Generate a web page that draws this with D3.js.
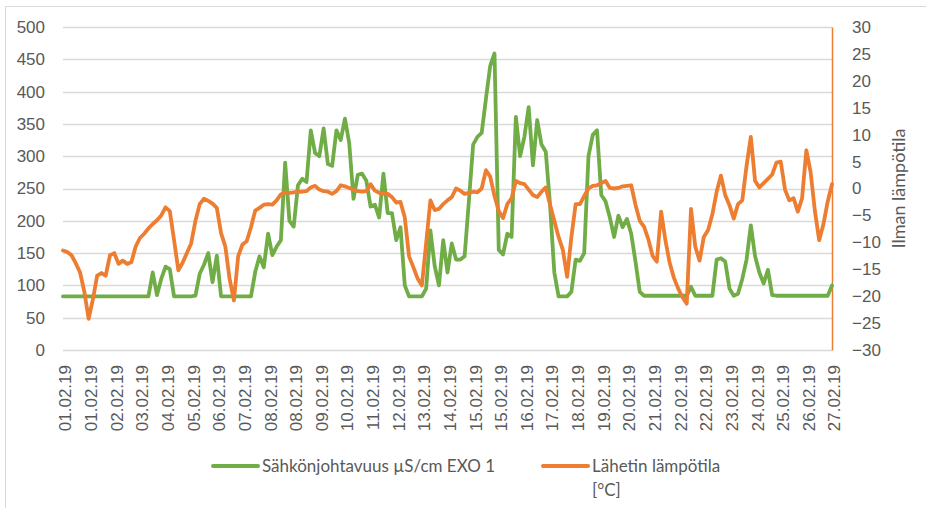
<!DOCTYPE html>
<html>
<head>
<meta charset="utf-8">
<script src="https://cdn.jsdelivr.net/npm/d3@7"></script>
<style>
  body { margin: 0; background: #fff; }
  svg { font-family: Lato, "Open Sans", sans-serif; }
</style>
</head>
<body>
<div id="chart"></div>
<script>
(function() {

  // one label every 6 readings
  const tickLabels = ["01.02.19","01.02.19","02.02.19","03.02.19","04.02.19","05.02.19","06.02.19",
    "07.02.19","08.02.19","08.02.19","09.02.19","10.02.19","11.02.19","12.02.19","13.02.19",
    "14.02.19","15.02.19","15.02.19","16.02.19","17.02.19","18.02.19","19.02.19","20.02.19",
    "21.02.19","22.02.19","22.02.19","23.02.19","24.02.19","25.02.19","26.02.19","27.02.19"]
  const labelStep = 6

  // Sähkönjohtavuus µS/cm EXO 1
  const conductivity = [
    83,83,83,83,83,83,83,83,83,83,
    83,83,83,83,83,83,83,83,83,83,
    83,120,85,110,129,125,83,83,83,83,
    83,84,118,132,150,105,146,83,83,83,
    83,83,83,83,83,121,145,128,180,147,
    160,170,290,200,191,255,265,260,340,305,
    300,343,288,285,340,325,358,320,234,271,
    273,262,222,225,205,273,212,212,170,190,
    100,83,83,83,83,95,185,130,100,170,
    120,165,140,140,145,230,318,330,336,389,
    440,459,155,148,180,175,361,300,330,376,
    286,356,318,307,225,120,83,83,83,90,
    140,138,150,300,333,340,240,230,205,175,
    208,190,203,180,137,90,84,84,84,84,
    84,84,84,84,84,84,84,98,84,84,
    84,84,84,140,142,137,95,84,87,110,
    140,193,145,120,103,124,85,84,84,84,
    84,84,84,84,84,84,84,84,84,84,
    100]

  // Lähetin lämpötila [°C]
  const temperature = [
    -11.5,-11.8,-12.4,-13.9,-15.6,-19.2,-24.2,-20.6,-16.2,-15.7,
    -16.2,-12.4,-12.0,-14.0,-13.4,-14.0,-13.7,-10.8,-9.2,-8.4,
    -7.4,-6.6,-5.9,-5.0,-3.5,-4.2,-9.6,-15.2,-13.8,-12.0,
    -10.2,-6.0,-2.9,-1.9,-2.3,-2.8,-3.6,-8.3,-10.8,-16.8,
    -20.8,-12.6,-10.4,-9.8,-7.2,-4.1,-3.6,-3.0,-2.9,-3.0,
    -2.2,-1.1,-0.7,-0.8,-0.7,-0.6,-0.6,-0.5,0.2,0.5,
    -0.2,-0.5,-0.6,-1.0,-0.5,0.6,0.4,0.1,-0.2,-0.5,
    -0.6,-0.5,0.8,-0.4,-0.8,-1.0,-1.0,-1.6,-2.6,-2.5,
    -5.4,-12.6,-14.6,-16.7,-18.0,-10.2,-2.2,-4.0,-3.8,-2.9,
    -2.2,-1.6,0.0,-0.4,-1.0,-0.8,-0.6,-0.7,0.0,3.4,
    2.2,-1.4,-4.2,-5.5,-2.9,-1.8,1.4,1.0,0.8,-0.2,
    -1.2,-1.6,-0.6,0.2,-3.0,-6.0,-9.0,-11.4,-16.4,-9.0,
    -2.9,-2.9,-1.4,0.0,0.5,0.6,1.0,1.4,0.1,0.0,
    0.1,0.4,0.5,0.6,-3.0,-6.0,-7.1,-9.4,-12.5,-13.6,
    -4.3,-9.6,-13.8,-16.6,-18.6,-20.2,-21.4,-3.8,-10.8,-13.4,
    -9.0,-7.7,-4.8,-0.6,2.4,-1.2,-3.1,-5.6,-2.9,-2.2,
    4.2,9.6,1.4,0.2,1.0,1.8,2.6,4.8,5.0,-0.2,
    -2.2,-1.8,-4.3,-1.8,7.1,3.0,-4.2,-9.6,-6.6,-2.4,
    0.8]

  const leftTicks = [0,50,100,150,200,250,300,350,400,450,500]
  const rightTicks = [-30,-25,-20,-15,-10,-5,0,5,10,15,20,25,30]

  const green = "#70ad47"
  const orange = "#ed7d31"
  const textColor = "#595959"

  const width = 926, height = 508
  const plot = {left: 63, right: 832, top: 27, bottom: 350}

  const svg = d3.select("#chart").append("svg")
    .attr("width", width)
    .attr("height", height)

  // chart frame (only top/left edges are inside the picture)
  svg.append("rect")
    .attr("x", 5.5).attr("y", 6.5)
    .attr("width", 1000).attr("height", 1000)
    .attr("fill", "none")
    .attr("stroke", "#d9d9d9")

  const x = d3.scaleLinear()
    .domain([0, conductivity.length - 1])
    .range([plot.left, plot.right])

  const y = d3.scaleLinear().domain([0, 500]).range([plot.bottom, plot.top])
  const y2 = d3.scaleLinear().domain([-30, 30]).range([plot.bottom, plot.top])

  // gridlines
  svg.append("g")
    .selectAll("line")
    .data(leftTicks)
    .join("line")
      .attr("x1", plot.left).attr("x2", plot.right)
      .attr("y1", d => Math.round(y(d)) + 0.5).attr("y2", d => Math.round(y(d)) + 0.5)
      .attr("stroke", "#d9d9d9")
      .attr("stroke-width", 1.3)

  // left axis
  const left = svg.append("g")
    .attr("transform", "translate(45,0)")
    .call(d3.axisLeft(y).tickValues(leftTicks).tickSize(0).tickPadding(0))
  left.select(".domain").remove()
  left.selectAll("text").attr("fill", textColor).style("font-size", "17px")

  // right axis
  const right = svg.append("g")
    .attr("transform", "translate(" + plot.right + ",0)")
    .call(d3.axisRight(y2).tickValues(rightTicks).tickSize(0).tickPadding(20))
  right.select(".domain").attr("stroke", orange).attr("stroke-width", 1.5)
  right.selectAll("text").attr("fill", textColor).style("font-size", "17px")

  svg.append("text")
    .attr("transform", "translate(905," + ((plot.top + plot.bottom) / 2) + ") rotate(-90)")
    .attr("text-anchor", "middle")
    .attr("fill", textColor)
    .style("font-size", "18px")
    .text("Ilman lämpötila")

  // bottom axis
  const labelIdx = d3.range(0, conductivity.length, labelStep)
  const bottom = svg.append("g")
    .attr("transform", "translate(0," + plot.bottom + ")")
    .call(d3.axisBottom(x)
      .tickValues(labelIdx)
      .tickFormat(d => tickLabels[d / labelStep])
      .tickSize(0))
  bottom.select(".domain").remove()
  bottom.selectAll("text")
    .attr("transform", "rotate(-90)")
    .attr("text-anchor", "end")
    .attr("x", -15)
    .attr("y", 2)
    .attr("dy", "0.35em")
    .attr("fill", textColor)
    .style("font-size", "17px")

  // series
  const lineG = d3.line()
    .x((d, i) => x(i))
    .y(d => y(d))
  const lineT = d3.line()
    .x((d, i) => x(i))
    .y(d => y2(d))

  svg.append("path")
    .datum(conductivity)
    .attr("fill", "none")
    .attr("stroke", green)
    .attr("stroke-width", 3.8)
    .attr("stroke-linejoin", "round")
    .attr("stroke-linecap", "round")
    .attr("d", lineG)

  svg.append("path")
    .datum(temperature)
    .attr("fill", "none")
    .attr("stroke", orange)
    .attr("stroke-width", 3.8)
    .attr("stroke-linejoin", "round")
    .attr("stroke-linecap", "round")
    .attr("d", lineT)

  // legend
  const legend = [
    {name: ["Sähkönjohtavuus µS/cm EXO 1"], color: green, x: 213},
    {name: ["Lähetin lämpötila", "[°C]"], color: orange, x: 543}
  ]
  const lg = svg.append("g").selectAll("g").data(legend).join("g")
    .attr("transform", d => "translate(" + d.x + ",466)")
  lg.append("line")
    .attr("x1", 0).attr("x2", 45)
    .attr("stroke", d => d.color)
    .attr("stroke-width", 4)
    .attr("stroke-linecap", "round")
  lg.append("text")
    .attr("x", 49)
    .attr("fill", textColor)
    .style("font-size", "17px")
    .selectAll("tspan")
    .data(d => d.name)
    .join("tspan")
      .attr("x", 49)
      .attr("y", (d, i) => i * 24)
      .attr("dy", "0.35em")
      .text(d => d)

})();
</script>
</body>
</html>
